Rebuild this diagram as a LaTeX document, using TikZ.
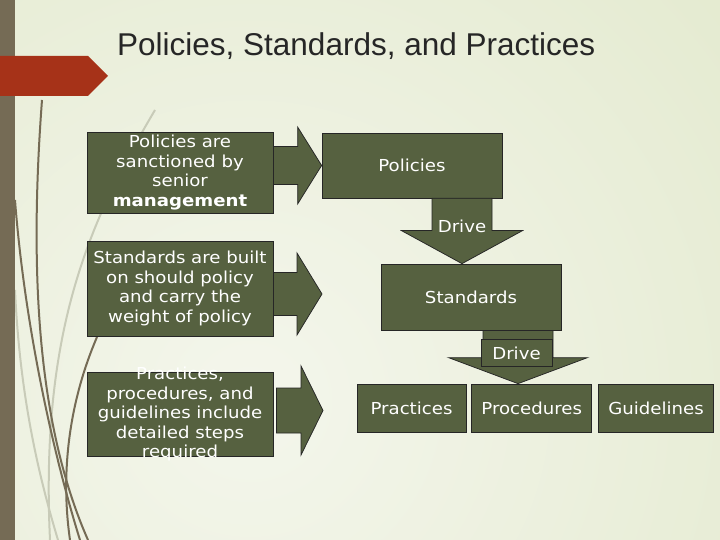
\documentclass[tikz,border=0pt]{standalone}
\usepackage{fontspec}
\setmainfont{DejaVu Sans}[FakeStretch=1.1]
\newfontfamily\titlefont{Liberation Sans}
\usetikzlibrary{calc, positioning}
\definecolor{boxgreen}{RGB}{86,97,64}
\definecolor{barbrown}{RGB}{117,107,85}
\definecolor{tabred}{RGB}{166,50,24}
\definecolor{bglight}{RGB}{244,246,236}
\definecolor{bgdark}{RGB}{214,224,183}
\definecolor{wispgray}{RGB}{200,203,184}
\tikzstyle{box} = [draw=black!85, line width=0.75pt, fill=boxgreen, text=white, align=center, inner sep=0pt, font=\fontsize{16.5}{19.5}\selectfont]
\tikzstyle{txt} = [text=white, align=center, inner sep=0pt, font=\fontsize{16.5}{19.5}\selectfont]
\tikzstyle{fat} = [draw=black!85, line width=0.75pt, fill=boxgreen]
\tikzstyle{wisp} = [draw=barbrown, line width=2pt]
\tikzstyle{faintwisp} = [draw=wispgray, line width=2pt]
\newcommand{\fatright}[5]{\path[fat] let \p1=(#1), \p2=(#2) in
  (\x1,\y1+#3) -- (\x2-#5,\y1+#3) -- (\x2-#5,\y1+#4) -- (\x2,\y1) -- (\x2-#5,\y1-#4) -- (\x2-#5,\y1-#3) -- (\x1,\y1-#3) -- cycle;}
\newcommand{\fatdown}[5]{\path[fat] let \p1=(#1), \p2=(#2) in
  (\x1-#3,\y1) -- (\x1-#3,\y2+#5) -- (\x1-#4,\y2+#5) -- (\x1,\y2) -- (\x1+#4,\y2+#5) -- (\x1+#3,\y2+#5) -- (\x1+#3,\y1) -- cycle;}

\begin{document}
\begin{tikzpicture}[x=1pt, y=-1pt, node distance=5pt]
    \useasboundingbox (0,0) rectangle (720,540);
    \begin{scope}
        \clip (0,0) rectangle (720,540);
        \shade[inner color=bglight, outer color=bgdark] (250,400) circle (1200);
    \end{scope}
    \draw[faintwisp] (155,110) .. controls (90,220) and (40,330) .. (50,540);
    \draw[faintwisp] (15,290) .. controls (20,400) and (40,480) .. (58,540);
    \draw[wisp] (42,100) .. controls (30,260) and (35,420) .. (88,540);
    \draw[wisp] (15,200) .. controls (25,330) and (55,460) .. (80,540);
    \draw[wisp] (97,337) .. controls (70,400) and (60,470) .. (70,540);
    \fill[barbrown] (0,0) rectangle (15,540);
    \fill[tabred] (0,56) -- (88,56) -- (108,76) -- (88,96) -- (0,96) -- cycle;
    \node[anchor=base west, inner sep=0pt, text=black!85, font=\titlefont\fontsize{31.5}{36}\selectfont] (title) at (117,56) {Policies, Standards, and Practices};

    \node[box, minimum width=186pt, minimum height=81pt] (polbox) at (180,172.5) {Policies are\\sanctioned by\\senior\\\textbf{management}};
    \node[box, minimum width=186pt, minimum height=95pt] (stdbox) at (180,288.5) {Standards are built\\on should policy\\and carry the\\weight of policy};
    \node[box, minimum width=186pt, minimum height=84pt, label={[txt]center:{Practices,\\procedures, and\\guidelines include\\detailed steps\\required}}] (pracbox) at (180,414) {};

    \node[box, minimum width=180pt, minimum height=65pt] (policies) at (412,165.5) {Policies};
    \node[box, minimum width=180pt, minimum height=66pt] (standards) at (471,297) {Standards};
    \node[box, minimum width=109pt, minimum height=48pt] (practices) at (411.5,408) {Practices};
    \node[box, minimum width=120pt, minimum height=48pt, right=5pt of practices] (procedures) {Procedures};
    \node[box, minimum width=115pt, minimum height=48pt, right=6pt of procedures] (guidelines) {Guidelines};

    \coordinate (stdtip) at (322,294);
    \coordinate (practip) at (323,410.5);
    \fatright{polbox.east |- policies.west}{policies.west}{19pt}{38.5pt}{24pt}
    \fatright{stdbox.east |- stdtip}{stdtip}{21.5pt}{41pt}{25pt}
    \fatright{$(pracbox.east |- practip)+(3,0)$}{practip}{22.5pt}{44.5pt}{22pt}

    \fatdown{$(policies.south)+(50,0)$}{standards.north}{30pt}{60.5pt}{33pt}
    \node[txt] (drive) at ($(policies.south)+(50,28)$) {Drive};
    \fatdown{$(standards.south)+(47,0)$}{procedures.north}{35pt}{69.5pt}{26pt}
    \node[box, minimum width=71pt, minimum height=27pt] (drivebox) at ($(standards.south)+(45.5,22.5)$) {Drive};
\end{tikzpicture}
\end{document}
